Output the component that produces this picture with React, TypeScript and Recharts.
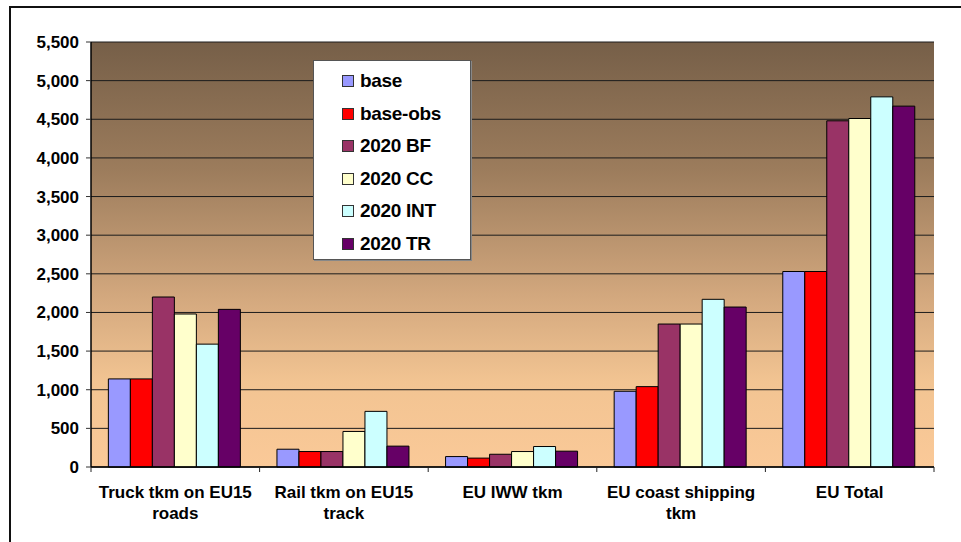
import React from 'react';
import { BarChart, Bar, XAxis, YAxis, CartesianGrid, Legend } from 'recharts';

const categories = [
  'Truck tkm on EU15\nroads',
  'Rail tkm on EU15\ntrack',
  'EU IWW tkm',
  'EU coast shipping\ntkm',
  'EU Total',
];
const base = [1140, 230, 135, 980, 2530];
const baseObs = [1140, 200, 115, 1040, 2530];
const bf2020 = [2200, 200, 165, 1850, 4480];
const cc2020 = [1980, 460, 200, 1850, 4510];
const int2020 = [1590, 720, 265, 2170, 4790];
const tr2020 = [2040, 270, 205, 2070, 4670];
const yTicks = [0, 500, 1000, 1500, 2000, 2500, 3000, 3500, 4000, 4500, 5000, 5500];

const series = [
  { key: 'base', name: 'base', color: '#9999FF', values: base },
  { key: 'baseObs', name: 'base-obs', color: '#FF0000', values: baseObs },
  { key: 'bf', name: '2020 BF', color: '#993366', values: bf2020 },
  { key: 'cc', name: '2020 CC', color: '#FFFFCC', values: cc2020 },
  { key: 'int', name: '2020 INT', color: '#CCFFFF', values: int2020 },
  { key: 'tr', name: '2020 TR', color: '#660066', values: tr2020 },
];

const data = categories.map((c, i) => {
  const row: Record<string, any> = { name: c };
  series.forEach(s => { row[s.key] = s.values[i]; });
  return row;
});

const W = 961;
const H = 542;
const margin = { top: 42, right: 27, bottom: 15, left: 0 };
const yAxisWidth = 91;
const bandWidth = (W - margin.right - yAxisWidth) / categories.length;

const fmt = (v: number) => v.toLocaleString('en-US');

const XTick = (props: any) => {
  const { x, y, payload, index } = props;
  const lines = String(payload.value).split('\n');
  const left = x - bandWidth / 2;
  const right = x + bandWidth / 2;
  return (
    <g>
      <line x1={left} y1={y - 6} x2={left} y2={y - 1} stroke="#222" />
      {index === categories.length - 1 && (
        <line x1={right} y1={y - 6} x2={right} y2={y - 1} stroke="#222" />
      )}
      <text x={x} y={y} textAnchor="middle" fontSize={17} fontWeight="bold" fill="#000">
        {lines.map((l, i) => (
          <tspan key={i} x={x} dy={i === 0 ? 25 : 21}>{l}</tspan>
        ))}
      </text>
    </g>
  );
};

// legend drawn in series order
const LegendBox = () => (
  <div
    style={{
      background: '#fff',
      border: '1px solid #555',
      boxShadow: '1px 1px 0 #888',
      width: 158,
      height: 200,
      boxSizing: 'border-box',
      paddingTop: 4,
      paddingLeft: 28,
    }}
  >
    {series.map(s => (
      <div key={s.key} style={{ height: 32.5, display: 'flex', alignItems: 'center' }}>
        <span
          style={{
            width: 12,
            height: 12,
            boxSizing: 'border-box',
            background: s.color,
            border: '1px solid #333',
            display: 'inline-block',
            marginRight: 6,
          }}
        />
        <span style={{ fontSize: 19, fontWeight: 'bold', color: '#000', letterSpacing: -0.3 }}>{s.name}</span>
      </div>
    ))}
  </div>
);

export default function App() {
  return (
    <div
      style={{
        position: 'fixed',
        left: 0,
        top: 0,
        width: W,
        height: H,
        overflow: 'hidden',
        background: '#fff',
        fontFamily: "Arial, 'Liberation Sans', sans-serif",
      }}
    >
      <div
        style={{
          position: 'absolute',
          left: 9,
          top: 6,
          width: 1000,
          height: 600,
          borderLeft: '2px solid #111',
          borderTop: '2px solid #111',
        }}
      />
      <div style={{ position: 'absolute', left: 0, top: 0 }}>
        <BarChart width={W} height={H} data={data} margin={margin} barCategoryGap="10.3%" barGap={0}>
          <defs>
            <linearGradient id="plotBg" x1="0" y1="0" x2="0" y2="1">
              <stop offset="0" stopColor="#765F48" />
              <stop offset="0.3" stopColor="#9C7C5C" />
              <stop offset="0.6" stopColor="#D3A87E" />
              <stop offset="0.8" stopColor="#F2C492" />
              <stop offset="1" stopColor="#FAC998" />
            </linearGradient>
          </defs>
          <CartesianGrid vertical={false} stroke="#1c1c1c" fill="url(#plotBg)" fillOpacity={1} />
          <XAxis
            dataKey="name"
            tick={<XTick />}
            tickLine={false}
            tickSize={6}
            tickMargin={0}
            height={60}
            interval={0}
            axisLine={{ stroke: '#000', strokeWidth: 1.5 }}
          />
          <YAxis
            width={yAxisWidth}
            domain={[0, 5500]}
            ticks={yTicks}
            interval={0}
            tickFormatter={fmt}
            tickSize={5}
            tickMargin={7}
            tick={{ fontSize: 17, fontWeight: 'bold', fill: '#000' }}
            tickLine={{ stroke: '#333' }}
            axisLine={{ stroke: '#000', strokeWidth: 1.5 }}
          />
          <YAxis
            yAxisId="r"
            orientation="right"
            width={0}
            domain={[0, 5500]}
            tick={false}
            tickLine={false}
            axisLine={{ stroke: '#999', strokeWidth: 2 }}
          />
          <Legend
            layout="vertical"
            align="center"
            verticalAlign="middle"
            content={<LegendBox />}
            wrapperStyle={{ position: 'absolute', left: 313, top: 60, width: 158, height: 200 }}
          />
          {series.map(s => (
            <Bar
              key={s.key}
              dataKey={s.key}
              name={s.name}
              fill={s.color}
              stroke="#000"
              strokeWidth={1}
              isAnimationActive={false}
            />
          ))}
        </BarChart>
      </div>
    </div>
  );
}
